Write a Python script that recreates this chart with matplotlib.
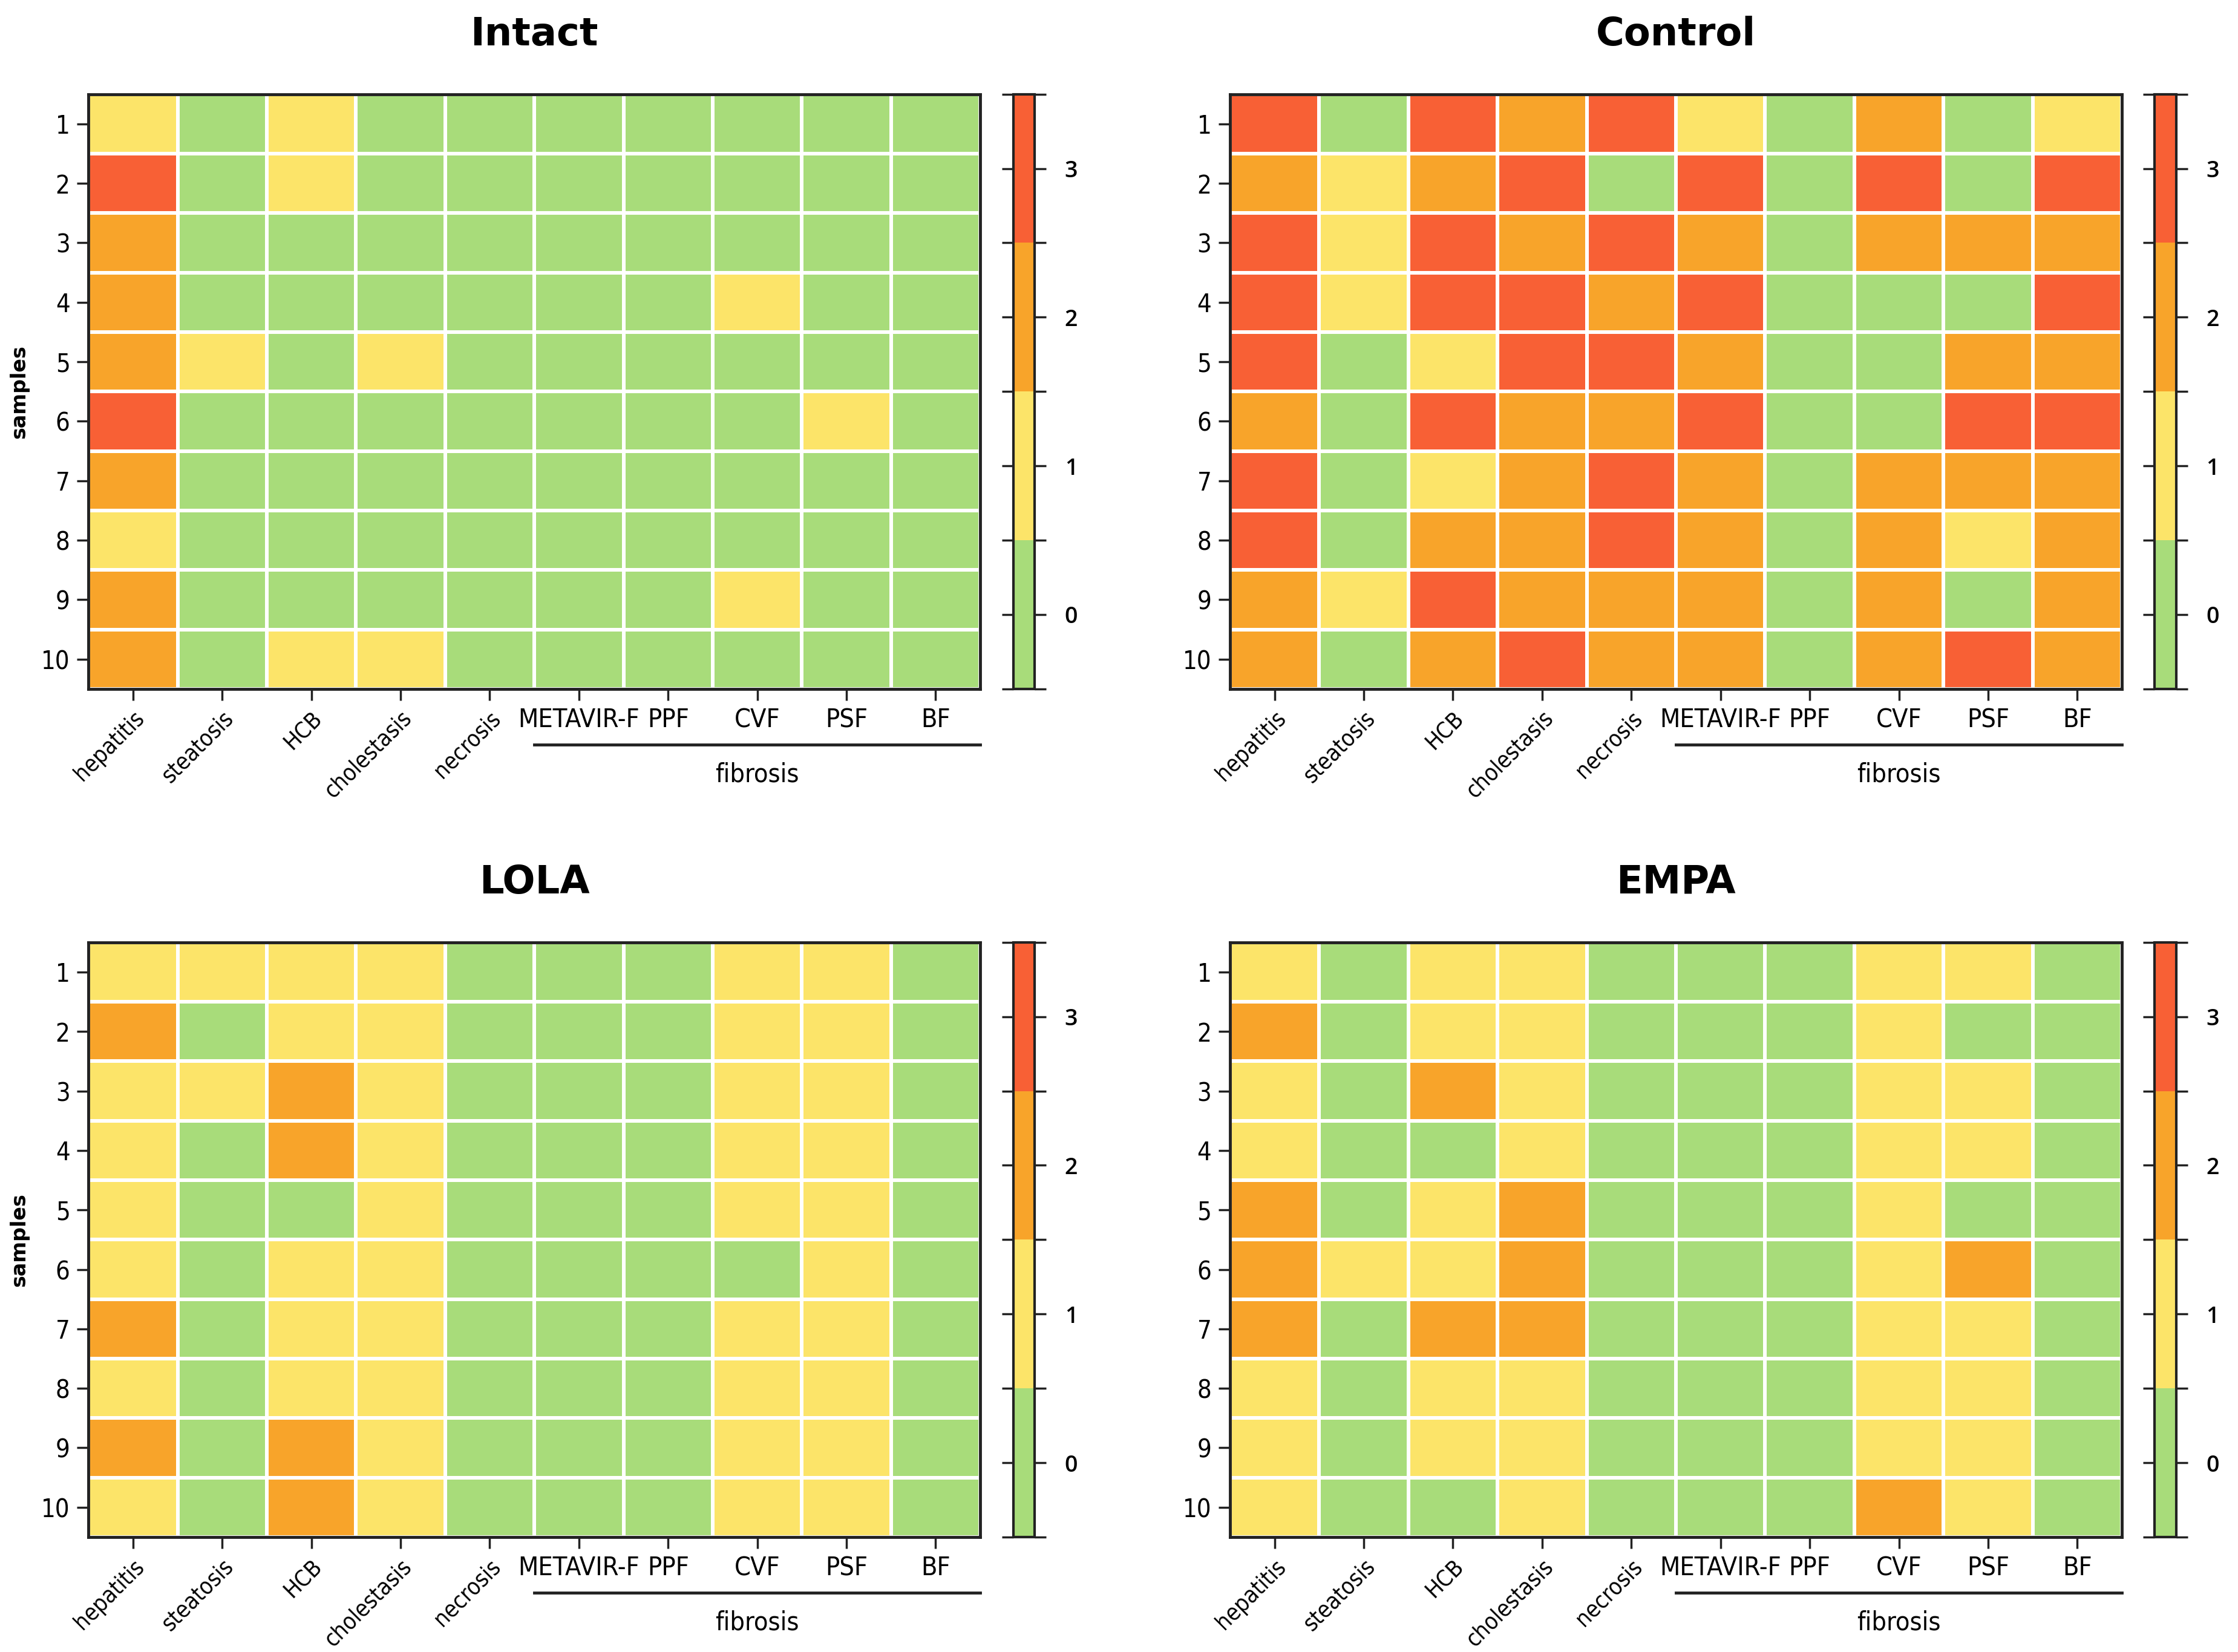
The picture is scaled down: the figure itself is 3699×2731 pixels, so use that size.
import numpy as np
import matplotlib.pyplot as plt
from matplotlib.colors import ListedColormap, BoundaryNorm
from matplotlib import font_manager

features = ["hepatitis", "steatosis", "HCB", "cholestasis", "necrosis",
            "METAVIR-F", "PPF", "CVF", "PSF", "BF"]
samples = [str(i) for i in range(1, 11)]

# scores per sample (rows 1..10), columns follow `features`
intact = [
    [1, 0, 1, 0, 0, 0, 0, 0, 0, 0],
    [3, 0, 1, 0, 0, 0, 0, 0, 0, 0],
    [2, 0, 0, 0, 0, 0, 0, 0, 0, 0],
    [2, 0, 0, 0, 0, 0, 0, 1, 0, 0],
    [2, 1, 0, 1, 0, 0, 0, 0, 0, 0],
    [3, 0, 0, 0, 0, 0, 0, 0, 1, 0],
    [2, 0, 0, 0, 0, 0, 0, 0, 0, 0],
    [1, 0, 0, 0, 0, 0, 0, 0, 0, 0],
    [2, 0, 0, 0, 0, 0, 0, 1, 0, 0],
    [2, 0, 1, 1, 0, 0, 0, 0, 0, 0],
]
control = [
    [3, 0, 3, 2, 3, 1, 0, 2, 0, 1],
    [2, 1, 2, 3, 0, 3, 0, 3, 0, 3],
    [3, 1, 3, 2, 3, 2, 0, 2, 2, 2],
    [3, 1, 3, 3, 2, 3, 0, 0, 0, 3],
    [3, 0, 1, 3, 3, 2, 0, 0, 2, 2],
    [2, 0, 3, 2, 2, 3, 0, 0, 3, 3],
    [3, 0, 1, 2, 3, 2, 0, 2, 2, 2],
    [3, 0, 2, 2, 3, 2, 0, 2, 1, 2],
    [2, 1, 3, 2, 2, 2, 0, 2, 0, 2],
    [2, 0, 2, 3, 2, 2, 0, 2, 3, 2],
]
lola = [
    [1, 1, 1, 1, 0, 0, 0, 1, 1, 0],
    [2, 0, 1, 1, 0, 0, 0, 1, 1, 0],
    [1, 1, 2, 1, 0, 0, 0, 1, 1, 0],
    [1, 0, 2, 1, 0, 0, 0, 1, 1, 0],
    [1, 0, 0, 1, 0, 0, 0, 1, 1, 0],
    [1, 0, 1, 1, 0, 0, 0, 0, 1, 0],
    [2, 0, 1, 1, 0, 0, 0, 1, 1, 0],
    [1, 0, 1, 1, 0, 0, 0, 1, 1, 0],
    [2, 0, 2, 1, 0, 0, 0, 1, 1, 0],
    [1, 0, 2, 1, 0, 0, 0, 1, 1, 0],
]
empa = [
    [1, 0, 1, 1, 0, 0, 0, 1, 1, 0],
    [2, 0, 1, 1, 0, 0, 0, 1, 0, 0],
    [1, 0, 2, 1, 0, 0, 0, 1, 1, 0],
    [1, 0, 0, 1, 0, 0, 0, 1, 1, 0],
    [2, 0, 1, 2, 0, 0, 0, 1, 0, 0],
    [2, 1, 1, 2, 0, 0, 0, 1, 2, 0],
    [2, 0, 2, 2, 0, 0, 0, 1, 1, 0],
    [1, 0, 1, 1, 0, 0, 0, 1, 1, 0],
    [1, 0, 1, 1, 0, 0, 0, 1, 1, 0],
    [1, 0, 0, 1, 0, 0, 0, 2, 1, 0],
]

colors = ["#a8dc7a", "#fce469", "#f8a42a", "#f86035"]
cmap = ListedColormap(colors)
norm = BoundaryNorm([-0.5, 0.5, 1.5, 2.5, 3.5], cmap.N)

# condensed face if one is installed, else plain DejaVu Sans
names = {f.name for f in font_manager.fontManager.ttflist}
cond = {f.name for f in font_manager.fontManager.ttflist if f.stretch in ("condensed", 75, "semi-condensed")}
if "Liberation Sans Narrow" in names:
    lab_font = dict(family="Liberation Sans Narrow")
elif "DejaVu Sans" in cond:
    lab_font = dict(family="DejaVu Sans", stretch="condensed")
else:
    lab_font = dict(family="DejaVu Sans")

edge = "#222222"

fig = plt.figure(figsize=(36.99, 27.31), dpi=100)

panels = [
    ("Intact", intact, 0.0395, 0.583, True),
    ("Control", control, 0.5496, 0.583, False),
    ("LOLA", lola, 0.0395, 0.0696, True),
    ("EMPA", empa, 0.5496, 0.0696, False),
]
w, h = 0.3985, 0.360

for title, data, x0, y0, show_ylabel in panels:
    ax = fig.add_axes([x0, y0, w, h])
    arr = np.array(data)
    mesh = ax.pcolormesh(np.arange(11), np.arange(11), arr, cmap=cmap, norm=norm,
                         edgecolors="white", linewidth=3)
    ax.set_xlim(0, 10)
    ax.set_ylim(10, 0)
    ax.set_xticks(np.arange(10) + 0.5)
    ax.set_yticks(np.arange(10) + 0.5)
    ax.set_yticklabels(samples, fontsize=30, **lab_font)
    labels = ax.set_xticklabels(features, fontsize=31, **lab_font)
    for i, lab in enumerate(labels):
        if i < 5:
            lab.set_fontsize(27)
            lab.set_rotation(45)
            lab.set_ha("right")
            lab.set_va("top")
            lab.set_rotation_mode("anchor")
    ax.tick_params(length=14, width=2.5, color=edge, pad=8)
    for s in ax.spines.values():
        s.set_linewidth(3.5)
        s.set_color(edge)
    ax.set_title(title, fontsize=46, fontweight="bold", pad=58)
    if show_ylabel:
        ax.set_ylabel("samples", fontsize=24, fontweight="bold", labelpad=14)
    # fibrosis group bracket
    ax.plot([5, 10], [-0.094, -0.094], transform=ax.get_xaxis_transform(),
            color=edge, linewidth=3.5, clip_on=False)
    ax.text(7.5, -0.123, "fibrosis", transform=ax.get_xaxis_transform(),
            ha="center", va="top", fontsize=31, **lab_font)

    cax = fig.add_axes([x0 + w + 0.0147, y0, 0.0095, h])
    cb = fig.colorbar(mesh, cax=cax, ticks=[0, 1, 2, 3])
    cb.outline.set_linewidth(3)
    cb.outline.set_edgecolor(edge)
    cax.tick_params(axis="y", which="both", left=True, right=True, direction="out",
                    length=14, width=2.5, color=edge, labelsize=27, pad=22)
    for t in cax.get_yticklabels():
        t.set_family(["Open Sans", "DejaVu Sans"])
        t.set_fontweight("semibold")

fig.savefig("out.png", dpi=100)
